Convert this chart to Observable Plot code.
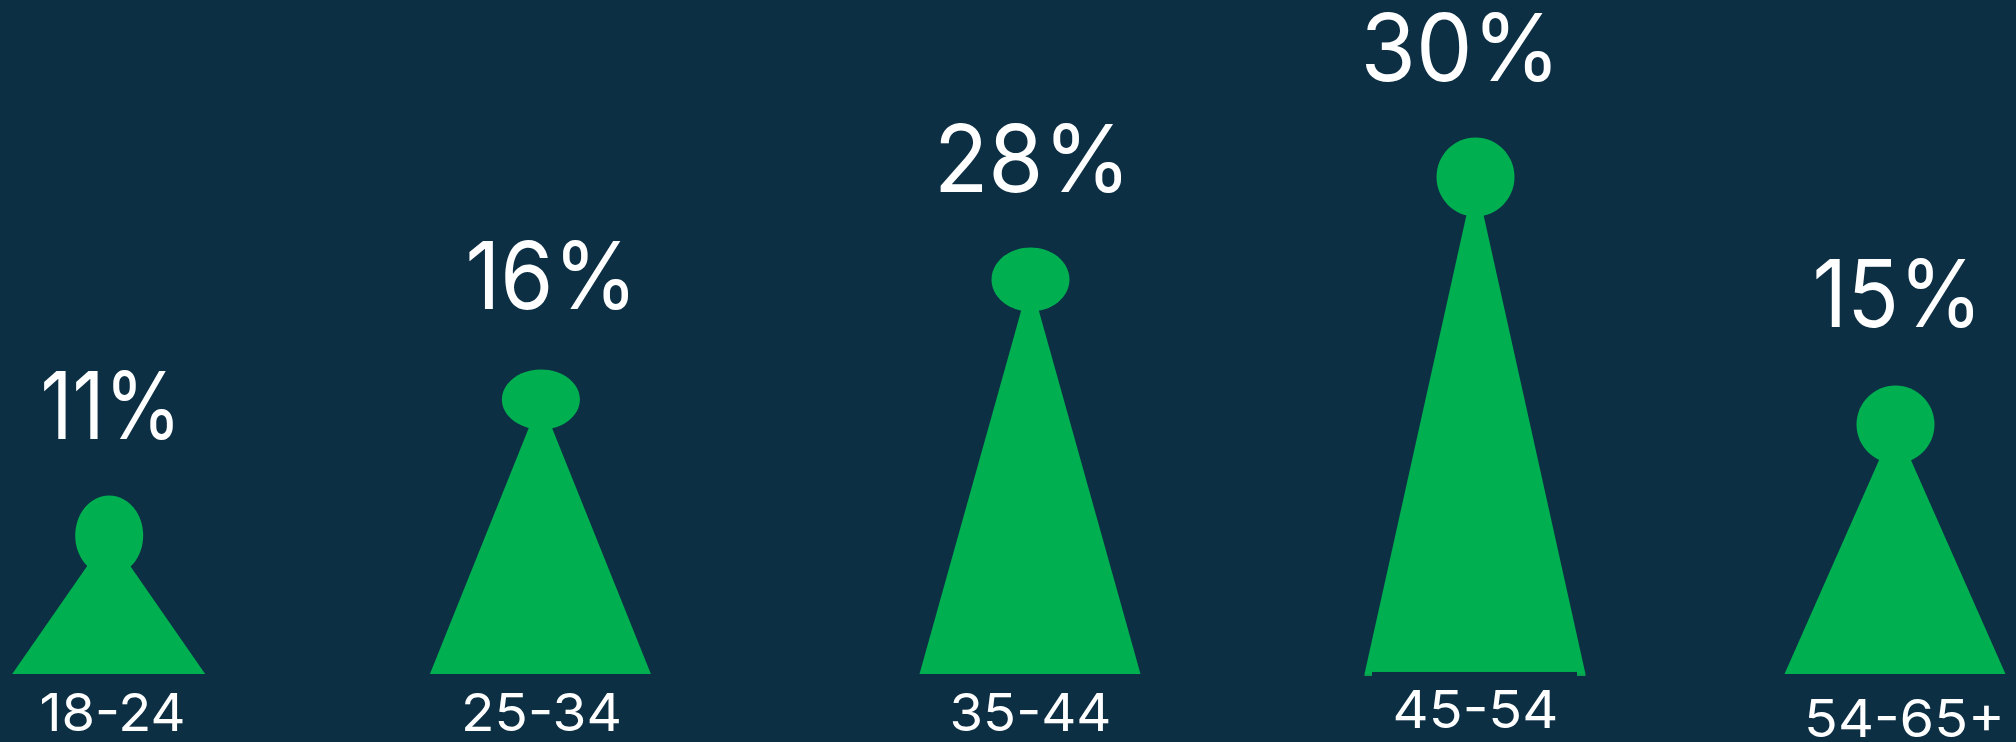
<!DOCTYPE html>
<html>
<head>
<meta charset="utf-8">
<script src="https://cdn.jsdelivr.net/npm/d3@7"></script>
<script src="https://cdn.jsdelivr.net/npm/@observablehq/plot@0.6"></script>
<style>
  html, body { margin: 0; padding: 0; background: #0c2f44; overflow: hidden; }
  svg { display: block; }
</style>
</head>
<body>
<div id="chart"></div>
<script>
const ageGroups = ["18-24", "25-34", "35-44", "45-54", "54-65+"];
const shares = [11, 16, 28, 30, 15];

// Horizontal placement, in x-scale units
const figureCenters = [108.7, 540.4, 1030, 1475, 1895];
const figureHalfWidths = [96.5, 110.5, 110.5, 110.5, 110.5];
const headRadiiX = [34, 39, 39, 39, 39];
const headRadiiY = [40, 30, 32, 39.5, 39];
const shareLabelX = [110.5, 551, 1032, 1460, 1897];
const shareLabelDy = [-97, -91, -88, -96.5, -98];
const shareLabelWidth = [141, 172, 197, 200, 170];
const ageLabelX = [112, 541, 1030, 1475, 1904];
const ageLabelDy = [56, 56, 56, 53, 62];
const ageLabelWidth = [146, 161, 162, 166, 201];

// The pictogram heights are not proportional: y values pass through a piecewise map
const yDomain = [-1, 0, 11, 15, 16, 28, 30];
const yRange = [684, 674, 535, 424, 399, 279, 176.5];
const yPiecewise = d3.scaleLinear().domain(yDomain).range(yRange);

const bg = "#0c2f44";
const green = "#00af50";
const font = "Inter, 'Noto Sans', sans-serif";

const triangles = ageGroups.flatMap((age, i) => [
  {age, x: figureCenters[i] - figureHalfWidths[i], v: 0},
  {age, x: figureCenters[i], v: shares[i]},
  {age, x: figureCenters[i] + figureHalfWidths[i], v: 0}
]);

function ellipseSymbol(rx, ry) {
  const k = 0.5522848;
  return {
    draw(ctx) {
      ctx.moveTo(rx, 0);
      ctx.bezierCurveTo(rx, k * ry, k * rx, ry, 0, ry);
      ctx.bezierCurveTo(-k * rx, ry, -rx, k * ry, -rx, 0);
      ctx.bezierCurveTo(-rx, -k * ry, -k * rx, -ry, 0, -ry);
      ctx.bezierCurveTo(k * rx, -ry, rx, -k * ry, rx, 0);
      ctx.closePath();
    }
  };
}

// fits a label to the width it has in the picture
const fitTo = (w) => function (index, scales, values, dimensions, context, next) {
  const g = next(index, scales, values, dimensions, context);
  d3.select(g).selectAll("text").attr("textLength", w).attr("lengthAdjust", "spacingAndGlyphs");
  return g;
};

const marks = [
  Plot.area(triangles, {x1: "x", y1: () => 0, y2: "v", z: "age", fill: green, curve: "linear"}),
  // the 45-54 figure has a small notch in its base, leaving two feet
  Plot.rect([0], {x1: () => 1364.5, x2: () => 1372, y1: () => -0.2, y2: () => 0, fill: "#0a9e4e"}),
  Plot.rect([0], {x1: () => 1577, x2: () => 1585.5, y1: () => -0.2, y2: () => 0, fill: "#0a9e4e"}),
  Plot.rect([0], {x1: () => 1372, x2: () => 1577, y1: () => 0, y2: () => 0.16, fill: bg})
];

ageGroups.forEach((age, i) => {
  marks.push(
    Plot.dot([age], {
      x: () => figureCenters[i],
      y: () => shares[i],
      r: 10,
      fill: green,
      symbol: ellipseSymbol(headRadiiX[i], headRadiiY[i])
    }),
    Plot.text([age], {
      x: () => shareLabelX[i],
      y: () => shares[i],
      dy: shareLabelDy[i],
      text: () => shares[i] + "%",
      fill: "white",
      fontFamily: font,
      fontWeight: 400,
      fontSize: 94,
      lineAnchor: "bottom",
      textAnchor: "middle",
      render: fitTo(shareLabelWidth[i])
    }),
    Plot.text([age], {
      x: () => ageLabelX[i],
      y: () => 0,
      dy: ageLabelDy[i],
      text: () => age,
      fill: "white",
      fontFamily: font,
      fontWeight: 400,
      fontSize: 52,
      lineAnchor: "bottom",
      textAnchor: "middle",
      render: fitTo(ageLabelWidth[i])
    })
  );
});

const chart = Plot.plot({
  width: 2016,
  height: 742,
  margin: 0,
  style: {background: bg},
  x: {domain: [0, 2016], range: [0, 2016], axis: null},
  y: {transform: yPiecewise, domain: [0, 742], range: [0, 742], axis: null},
  marks
});
document.getElementById("chart").append(chart);
</script>
</body>
</html>
